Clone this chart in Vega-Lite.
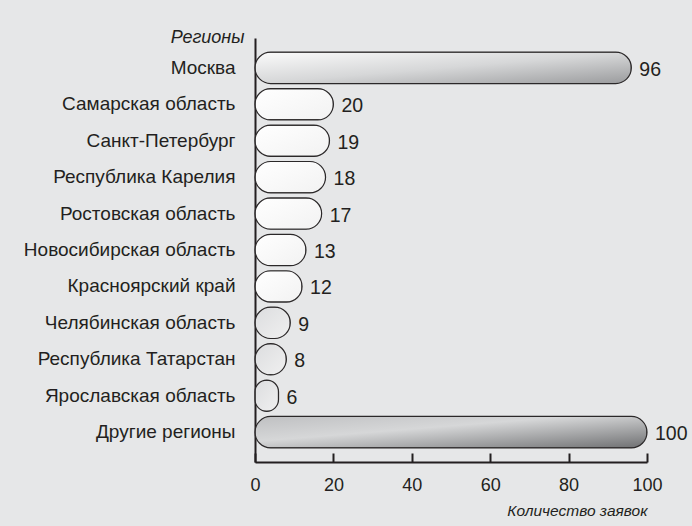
{
  "$schema": "https://vega.github.io/schema/vega-lite/v6.json",
  "autosize": "none",
  "width": 392,
  "height": 424,
  "padding": {"left": 255, "top": 38, "right": 45, "bottom": 64},
  "background": "#e6e7e8",
  "config": {
    "view": {"stroke": null},
    "font": "Liberation Sans, Arial, sans-serif"
  },
  "data": {
    "values": [
      {"region": "Москва", "count": 96, "group": "big"},
      {"region": "Самарская область", "count": 20, "group": "mid"},
      {"region": "Санкт-Петербург", "count": 19, "group": "mid"},
      {"region": "Республика Карелия", "count": 18, "group": "mid"},
      {"region": "Ростовская область", "count": 17, "group": "mid"},
      {"region": "Новосибирская область", "count": 13, "group": "mid"},
      {"region": "Красноярский край", "count": 12, "group": "mid"},
      {"region": "Челябинская область", "count": 9, "group": "small"},
      {"region": "Республика Татарстан", "count": 8, "group": "small"},
      {"region": "Ярославская область", "count": 6, "group": "small"},
      {"region": "Другие регионы", "count": 100, "group": "other"}
    ]
  },
  "encoding": {
    "y": {
      "field": "region",
      "type": "nominal",
      "sort": null,
      "scale": {"paddingInner": 0.14, "paddingOuter": 0.39},
      "axis": {
        "title": "Регионы",
        "titleFontStyle": "italic",
        "titleFontWeight": "normal",
        "titleFontSize": 18,
        "titleColor": "#231f20",
        "titleAngle": 0,
        "titleAlign": "right",
        "titleBaseline": "alphabetic",
        "titleX": -11,
        "titleY": 4,
        "ticks": false,
        "labelPadding": 20,
        "labelFontSize": 19,
        "labelColor": "#231f20",
        "domainColor": "#231f20",
        "domainWidth": 2,
        "labelLimit": 300
      }
    },
    "x": {
      "field": "count",
      "type": "quantitative",
      "scale": {"domain": [0, 100], "nice": false},
      "axis": {
        "values": [0, 20, 40, 60, 80, 100],
        "title": "Количество заявок",
        "titleFontStyle": "italic",
        "titleFontWeight": "normal",
        "titleFontSize": 15.5,
        "titleColor": "#231f20",
        "titleAlign": "right",
        "titleAnchor": "end",
        "titleBaseline": "alphabetic",
        "titleX": 392,
        "titleY": 53,
        "grid": false,
        "tickSize": -9,
        "tickWidth": 2,
        "tickColor": "#231f20",
        "domainColor": "#231f20",
        "domainWidth": 2,
        "labelFontSize": 18,
        "labelColor": "#231f20",
        "labelPadding": 23,
        "labelFlush": false
      }
    }
  },
  "layer": [
    {
      "mark": {
        "type": "bar",
        "cornerRadius": 16,
        "stroke": "#2b2829",
        "strokeWidth": 1.2
      },
      "encoding": {
        "fill": {
          "condition": [
            {
              "test": "datum.group === 'big'",
              "value": {
                "gradient": "linear", "x1": 0, "y1": 0, "x2": 1, "y2": 1,
                "stops": [
                  {"offset": 0, "color": "#fbfbfb"},
                  {"offset": 0.5, "color": "#d6d7d8"},
                  {"offset": 1, "color": "#9a9b9d"}
                ]
              }
            },
            {
              "test": "datum.group === 'other'",
              "value": {
                "gradient": "linear", "x1": 0, "y1": 0, "x2": 1, "y2": 1,
                "stops": [
                  {"offset": 0, "color": "#bfc0c2"},
                  {"offset": 0.4, "color": "#d6d7d8"},
                  {"offset": 1, "color": "#6f7072"}
                ]
              }
            },
            {
              "test": "datum.group === 'small'",
              "value": {
                "gradient": "linear", "x1": 0, "y1": 0, "x2": 1, "y2": 1,
                "stops": [
                  {"offset": 0, "color": "#dcdddf"},
                  {"offset": 1, "color": "#f0f0f0"}
                ]
              }
            }
          ],
          "value": {
            "gradient": "linear", "x1": 0, "y1": 0, "x2": 1, "y2": 1,
            "stops": [
              {"offset": 0, "color": "#ffffff"},
              {"offset": 1, "color": "#f2f2f2"}
            ]
          }
        }
      }
    },
    {
      "mark": {
        "type": "text",
        "align": "left",
        "baseline": "middle",
        "dx": 8,
        "dy": 2,
        "fontSize": 19.5,
        "color": "#231f20"
      },
      "encoding": {
        "text": {"field": "count", "type": "quantitative"}
      }
    }
  ]
}
